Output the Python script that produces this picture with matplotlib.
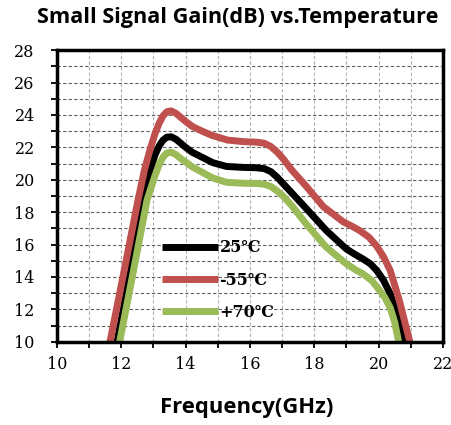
import matplotlib
matplotlib.use("Agg")
import matplotlib.pyplot as plt
from matplotlib.ticker import MultipleLocator

plt.rcParams["font.family"] = ["DejaVu Serif"]

# gain curves (GHz, dB)
freq_25 = [11.87, 12.3, 12.7, 12.89, 13.05, 13.18, 13.3, 13.42, 13.55, 13.7, 13.85, 14.0, 14.2, 14.44,
           14.85, 15.27, 15.8, 16.2, 16.45, 16.65, 16.85, 17.2, 17.76, 18.38, 19.0, 19.3, 19.52, 19.75,
           19.94, 20.15, 20.36, 20.55, 20.78]
gain_25 = [10, 14.5, 18.74, 20.55, 21.55, 22.1, 22.45, 22.63, 22.65, 22.5, 22.25, 22.0, 21.7, 21.46,
           21.05, 20.82, 20.76, 20.74, 20.68, 20.5, 20.15, 19.4, 18.2, 16.85, 15.72, 15.35, 15.1, 14.8,
           14.4, 13.8, 12.96, 11.8, 10]

freq_m55 = [11.65, 12.1, 12.52, 12.72, 12.9, 13.05, 13.18, 13.3, 13.42, 13.55, 13.7, 13.85, 14.0, 14.2,
            14.4, 14.8, 15.3, 15.8, 16.2, 16.45, 16.65, 16.85, 17.05, 17.3, 17.76, 18.28, 18.9, 19.2,
            19.42, 19.7, 19.94, 20.15, 20.36, 20.65, 20.97]
gain_m55 = [10, 14.5, 18.74, 20.6, 21.9, 22.85, 23.5, 23.95, 24.2, 24.25, 24.1, 23.85, 23.6, 23.3,
            23.1, 22.75, 22.45, 22.35, 22.32, 22.25, 22.05, 21.7, 21.25, 20.6, 19.57, 18.34, 17.4, 17.1,
            16.85, 16.45, 15.9, 15.25, 14.4, 12.5, 10]

freq_p70 = [11.95, 12.4, 12.8, 13.04, 13.18, 13.3, 13.42, 13.55, 13.7, 13.85, 14.0, 14.2, 14.44, 14.85,
            15.27, 15.8, 16.2, 16.45, 16.65, 16.85, 17.05, 17.3, 17.76, 18.38, 19.0, 19.3, 19.52, 19.8,
            20.04, 20.2, 20.36, 20.5, 20.62]
gain_p70 = [10, 14.6, 18.74, 20.2, 20.95, 21.4, 21.65, 21.7, 21.55, 21.3, 21.1, 20.8, 20.54, 20.1,
            19.84, 19.78, 19.77, 19.72, 19.58, 19.3, 18.95, 18.4, 17.24, 15.82, 14.8, 14.42, 14.18, 13.75,
            13.14, 12.7, 12.1, 11.2, 10]

labels = ["25\u2103", "-55\u2103", "+70\u2103"]
colors = ["#000000", "#C0504D", "#9BBB59"]

fig = plt.figure(figsize=(4.52, 4.25), dpi=100)
ax = fig.add_axes([0.126, 0.196, 0.854, 0.686])

series = [(freq_25, gain_25), (freq_m55, gain_m55), (freq_p70, gain_p70)]
for (fx, gy), lab, col in zip(series, labels, colors):
    ax.plot(fx, gy, color=col, lw=5, label=lab, solid_joinstyle="round", solid_capstyle="butt")

ax.set_xlim(10, 22)
ax.set_ylim(10, 28)
ax.xaxis.set_major_locator(MultipleLocator(2))
ax.xaxis.set_minor_locator(MultipleLocator(1))
ax.yaxis.set_major_locator(MultipleLocator(2))
ax.yaxis.set_minor_locator(MultipleLocator(1))

ax.grid(which="both", axis="x", color="#b0b0b0", linestyle=(0, (3, 2)), lw=0.8)
ax.grid(which="both", axis="y", color="#606060", linestyle=(0, (3, 2)), lw=0.8)
ax.set_axisbelow(True)

for sp in ax.spines.values():
    sp.set_linewidth(2.5)

ax.tick_params(which="both", direction="out", length=4, width=1.3, colors="black", labelsize=11.5)
ax.tick_params(axis="y", pad=12)
ax.tick_params(axis="x", pad=6)

leg = ax.legend(loc="upper left", bbox_to_anchor=(0.235, 0.40), frameon=False, handlelength=3.5,
                handletextpad=0.1, labelspacing=0.95,
                prop={"family": ["DejaVu Serif"], "size": 11.5, "weight": "bold"})

fig.text(0.525, 0.958, "Small Signal Gain(dB) vs.Temperature", ha="center", va="center",
         family="Open Sans", weight="bold", fontsize=15.6)
fig.text(0.545, 0.04, "Frequency(GHz)", ha="center", va="center",
         family="Open Sans", weight="bold", fontsize=15.8)

fig.savefig("out.png", dpi=100)
